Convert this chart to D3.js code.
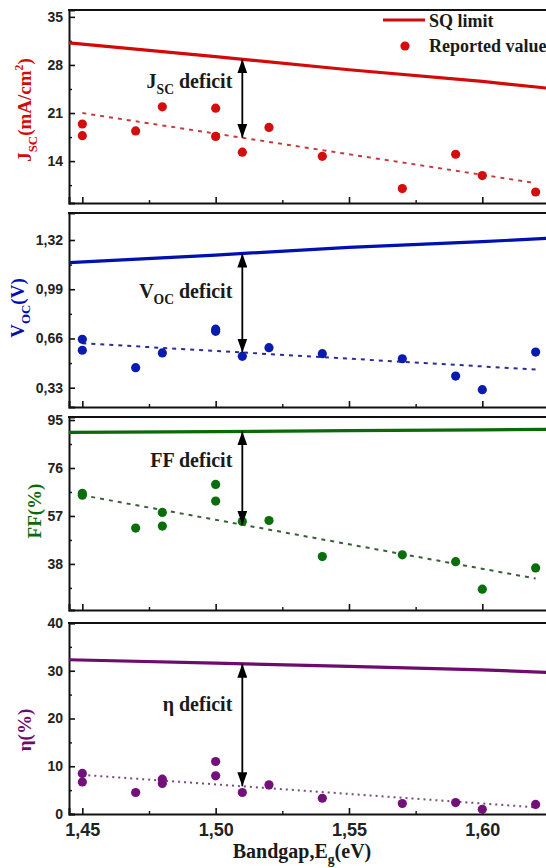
<!DOCTYPE html>
<html><head><meta charset="utf-8">
<script src="https://cdn.jsdelivr.net/npm/d3@7"></script>
<style>body{margin:0;background:#fff}svg{display:block}</style>
</head><body>
<script>
// ---------- data ----------
const xMajor = [1.45, 1.50, 1.55, 1.60];
const xMinor = [1.475, 1.525, 1.575, 1.625];
const sqEg  = [1.445, 1.50, 1.55, 1.60, 1.63];
const fitEg = [1.45, 1.62];
const arrowEg = 1.51;

const jscEg  = [1.45,1.45,1.47,1.48,1.50,1.50,1.51,1.52,1.54,1.57,1.59,1.60,1.62];
const jscVal = [19.4,17.7,18.4,21.9,21.7,17.6,15.3,18.9,14.7,10.0,15.0,11.9,9.5];
const sqJsc  = [31.2,29.2,27.3,25.6,24.4];
const fitJsc = [21.0,10.8];
const jscTicks = [14,21,28,35];
const jscMinor = [10.5,17.5,24.5,31.5];

const vocEg  = [1.45,1.45,1.47,1.48,1.50,1.50,1.51,1.52,1.54,1.57,1.59,1.60,1.62];
const vocVal = [0.654,0.581,0.464,0.563,0.722,0.708,0.540,0.598,0.558,0.524,0.408,0.317,0.569];
const sqVoc  = [1.168,1.219,1.271,1.309,1.336];
const fitVoc = [0.628,0.452];
const vocTicks = [0.33,0.66,0.99,1.32];
const vocMinor = [0.495,0.825,1.155];

const ffEg  = [1.45,1.45,1.47,1.48,1.48,1.50,1.50,1.51,1.52,1.54,1.57,1.59,1.60,1.62];
const ffVal = [66.0,65.2,52.2,58.4,53.0,69.5,62.9,54.8,55.2,40.9,41.6,38.9,28.0,36.4];
const sqFF  = [90.1,90.4,90.8,91.1,91.3];
const fitFF = [65.2,32.2];
const ffTicks = [38,57,76,95];
const ffMinor = [28.5,47.5,66.5,85.5];

const etaEg  = [1.45,1.45,1.47,1.48,1.48,1.50,1.50,1.51,1.52,1.54,1.57,1.59,1.60,1.62];
const etaVal = [8.5,6.7,4.5,7.3,6.4,11.0,8.0,4.5,6.1,3.3,2.2,2.4,1.0,2.0];
const sqEta  = [32.3,31.6,30.9,30.2,29.5];
const fitEta = [8.2,1.4];
const etaTicks = [0,10,20,30,40];
const etaMinor = [5,15,25,35];

const legendLabels = ["SQ limit", "Reported value"];
const xTitle = [{t:"Bandgap,E"},{t:"g",sub:true},{t:"(eV)"}];

// ---------- layout ----------
const W = 546, H = 868;
const SERIF = "'Liberation Serif','Times New Roman',serif";
const SANS = "'Liberation Sans',Arial,sans-serif";
const x = d3.scaleLinear().domain([1.445, 1.63]).range([69, 562.3]);

const panels = [
  {eg:jscEg, val:jscVal, sq:sqJsc, fit:fitJsc, ticks:jscTicks, minor:jscMinor,
   top:10, bottom:203, domain:[7.9,36], fmt:d3.format("d"),
   line:"#d20a0a", dot:"#d40d0d", fitc:"#c43a3a", dash:"4,5",
   title:[{t:"J"},{t:"SC",sub:true},{t:"(mA/cm"},{t:"2",sup:true},{t:")"}], titleX:31, titleY:110,
   label:[{t:"J"},{t:"SC",sub:true},{t:" deficit"}], labelY:88},
  {eg:vocEg, val:vocVal, sq:sqVoc, fit:fitVoc, ticks:vocTicks, minor:vocMinor,
   top:213, bottom:407, domain:[0.2006,1.501], fmt:d=>d3.format(".2f")(d).replace(".",","),
   line:"#0010b0", dot:"#0a1cb0", fitc:"#2c2c94", dash:"4,5",
   title:[{t:"V"},{t:"OC",sub:true},{t:"(V)"}], titleX:24, titleY:308,
   label:[{t:"V"},{t:"OC",sub:true},{t:" deficit"}], labelY:298},
  {eg:ffEg, val:ffVal, sq:sqFF, fit:fitFF, ticks:ffTicks, minor:ffMinor,
   top:417, bottom:610, domain:[19.75,96.2], fmt:d3.format("d"),
   line:"#0a6a0a", dot:"#0a6e0a", fitc:"#3b5e3b", dash:"4,5",
   title:[{t:"FF(%)"}], titleX:41, titleY:511,
   label:[{t:"FF deficit"}], labelY:467},
  {eg:etaEg, val:etaVal, sq:sqEta, fit:fitEta, ticks:etaTicks, minor:etaMinor,
   top:623, bottom:814, domain:[0,40], fmt:d3.format("d"),
   line:"#6e0c6e", dot:"#74107a", fitc:"#7a4a7a", dash:"2,4",
   title:[{t:"η(%)"}], titleX:31, titleY:730,
   label:[{t:"η deficit"}], labelY:711}
];

const svg = d3.select("body").append("svg").attr("width", W).attr("height", H);

svg.append("defs").append("marker")
  .attr("id","ah").attr("viewBox","0 0 14 10").attr("refX",14).attr("refY",5)
  .attr("markerWidth",14).attr("markerHeight",10).attr("markerUnits","userSpaceOnUse")
  .attr("orient","auto-start-reverse")
  .append("path").attr("d","M0,0 L14,5 L0,10 Z").attr("fill","#000");

function rich(sel, parts, fs) {
  let shift = 0;
  parts.forEach(p => {
    const ts = sel.append("tspan").text(p.t);
    let target = 0, size = fs;
    if (p.sub) { target = fs*0.32; size = fs*0.68; }
    if (p.sup) { target = -fs*0.4; size = fs*0.62; }
    ts.attr("font-size", size).attr("dy", target - shift);
    shift = target;
  });
}

panels.forEach((p, i) => {
  const y = d3.scaleLinear().domain(p.domain).range([p.bottom, p.top]);
  const g = svg.append("g");

  // frame
  g.append("line").attr("x1",x.range()[0]-1).attr("x2",x.range()[1]).attr("y1",p.top).attr("y2",p.top)
    .attr("stroke","#111").attr("stroke-width",2);

  // y axis
  const ya = g.append("g").attr("transform",`translate(${x.range()[0]},0)`)
    .call(d3.axisLeft(y).tickValues(p.ticks).tickFormat(p.fmt).tickSize(-6).tickPadding(6));
  ya.select(".domain").attr("stroke","#111").attr("stroke-width",2);
  ya.selectAll(".tick line").attr("stroke","#111").attr("stroke-width",1.6);
  ya.selectAll("text").attr("font-family",SANS).attr("font-weight","bold").attr("font-size",14).attr("fill","#222");
  g.append("g").attr("transform",`translate(${x.range()[0]},0)`)
    .call(d3.axisLeft(y).tickValues(p.minor).tickFormat("").tickSize(-3))
    .call(s=>{s.select(".domain").remove(); s.selectAll("line").attr("stroke","#111").attr("stroke-width",1.4);});

  // x axis
  const last = i === panels.length-1;
  const xa = g.append("g").attr("transform",`translate(0,${p.bottom})`)
    .call(d3.axisBottom(x).tickValues(xMajor).tickFormat(last ? (d=>d3.format(".2f")(d).replace(".",",")) : "").tickSize(-6).tickPadding(9));
  xa.select(".domain").attr("stroke","#111").attr("stroke-width",2);
  xa.selectAll(".tick line").attr("stroke","#111").attr("stroke-width",1.6);
  xa.selectAll("text").attr("font-family",SANS).attr("font-weight","bold").attr("font-size",18).attr("fill","#222");
  g.append("g").attr("transform",`translate(0,${p.bottom})`)
    .call(d3.axisBottom(x).tickValues(xMinor).tickFormat("").tickSize(-3))
    .call(s=>{s.select(".domain").remove(); s.selectAll("line").attr("stroke","#111").attr("stroke-width",1.4);});

  // SQ line
  g.append("path").datum(sqEg.map((e,k)=>[e,p.sq[k]]))
    .attr("d", d3.line().x(d=>x(d[0])).y(d=>y(d[1])))
    .attr("fill","none").attr("stroke",p.line).attr("stroke-width",3.2);

  // fit line
  g.append("path").datum(fitEg.map((e,k)=>[e,p.fit[k]]))
    .attr("d", d3.line().x(d=>x(d[0])).y(d=>y(d[1])))
    .attr("fill","none").attr("stroke",p.fitc).attr("stroke-width",2).attr("stroke-dasharray",p.dash);

  // points
  g.selectAll("circle.pt").data(p.eg.map((e,k)=>[e,p.val[k]])).join("circle").attr("class","pt")
    .attr("cx",d=>x(d[0])).attr("cy",d=>y(d[1])).attr("r",4.6).attr("fill",p.dot);

  // deficit arrow
  const sqAt = d3.scaleLinear().domain(sqEg).range(p.sq)(arrowEg);
  const fitAt = d3.scaleLinear().domain(fitEg).range(p.fit)(arrowEg);
  g.append("line").attr("x1",x(arrowEg)).attr("x2",x(arrowEg))
    .attr("y1",y(sqAt)).attr("y2",y(fitAt))
    .attr("stroke","#000").attr("stroke-width",1.8)
    .attr("marker-start","url(#ah)").attr("marker-end","url(#ah)");

  const lab = g.append("text").attr("x",x(arrowEg)-10).attr("y",p.labelY)
    .attr("text-anchor","end").attr("font-family",SERIF).attr("font-weight","bold")
    .attr("font-size",20).attr("fill","#1a1a1a");
  rich(lab, p.label, 20);

  // y title
  const yt = g.append("text").attr("transform",`translate(${p.titleX},${p.titleY}) rotate(-90)`)
    .attr("text-anchor","middle").attr("font-family",SERIF).attr("font-weight","bold")
    .attr("font-size",19).attr("fill",p.line);
  rich(yt, p.title, 19);

  // legend in first panel
  if (i === 0) {
    g.append("line").attr("x1",383).attr("x2",425).attr("y1",20).attr("y2",20)
      .attr("stroke",p.line).attr("stroke-width",3.2);
    g.append("circle").attr("cx",405).attr("cy",46).attr("r",4.6).attr("fill",p.dot);
    g.selectAll("text.leg").data(legendLabels).join("text").attr("class","leg")
      .attr("x",429).attr("y",(d,k)=>k===0?27:52)
      .attr("font-family",SERIF).attr("font-weight","bold").attr("font-size",18).attr("fill","#1a1a1a")
      .text(d=>d);
  }
});

// x title
const xt = svg.append("text").attr("x",302).attr("y",858).attr("text-anchor","middle")
  .attr("font-family",SERIF).attr("font-weight","bold").attr("font-size",20).attr("fill","#1a1a1a");
rich(xt, xTitle, 20);
</script>
</body></html>
